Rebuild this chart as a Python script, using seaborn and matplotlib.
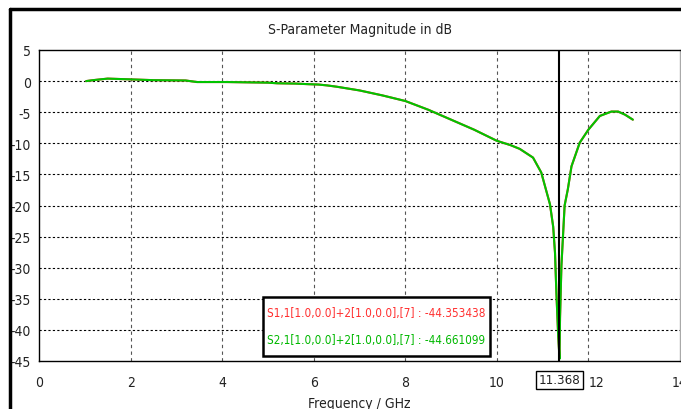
import matplotlib
matplotlib.use("Agg")
import matplotlib.pyplot as plt
import seaborn as sns
import pandas as pd
from matplotlib.patches import Rectangle
from matplotlib.lines import Line2D

freq = [1.03, 1.18, 1.5, 1.9, 2.5, 3.2, 3.45, 4.1, 4.55, 5.0, 5.2, 5.6, 5.9, 6.1, 6.3, 6.5,
        7.0, 7.5, 8.0, 8.5, 9.0, 9.5, 10.0, 10.3, 10.5, 10.79, 10.97, 11.16, 11.23, 11.27,
        11.3, 11.34, 11.368, 11.38, 11.41, 11.48, 11.55, 11.63, 11.81, 12.0, 12.25, 12.5,
        12.65, 12.8, 12.97]
s21 = [0.0, 0.15, 0.4, 0.3, 0.15, 0.1, -0.15, -0.15, -0.2, -0.25, -0.35, -0.4, -0.5, -0.55, -0.7, -0.9,
       -1.5, -2.3, -3.2, -4.6, -6.2, -7.8, -9.6, -10.3, -10.9, -12.3, -14.7, -19.8, -23.4, -27.6,
       -34.0, -41.0, -44.66, -38.0, -29.7, -20.0, -17.4, -13.7, -9.9, -7.8, -5.6, -4.9,
       -4.9, -5.4, -6.2]
s11 = [0.0, 0.15, 0.4, 0.3, 0.15, 0.1, -0.15, -0.15, -0.2, -0.25, -0.35, -0.4, -0.5, -0.55, -0.7, -0.9,
       -1.5, -2.3, -3.2, -4.6, -6.2, -7.8, -9.6, -10.3, -10.9, -12.3, -14.7, -19.8, -23.4, -27.6,
       -34.0, -41.0, -44.35, -38.0, -29.7, -20.0, -17.4, -13.7, -9.9, -7.8, -5.6, -4.9,
       -4.9, -5.4, -6.2]
x_ticks = [0, 2, 4, 6, 8, 10, 12, 14]
y_ticks = [5, 0, -5, -10, -15, -20, -25, -30, -35, -40, -45]
marker_x = 11.368
legend_lines = ["S1,1[1.0,0.0]+2[1.0,0.0],[7] : -44.353438",
                "S2,1[1.0,0.0]+2[1.0,0.0],[7] : -44.661099"]

sns.set_style("white")
plt.rcParams['font.family'] = ['DejaVu Sans']
plt.rcParams['font.stretch'] = 'condensed'
FS = 10

W, H = 681, 410
fig = plt.figure(figsize=(W / 100, H / 100), dpi=100)
ax = fig.add_axes([39 / W, 1 - 362 / H, (680 - 39) / W, (362 - 51) / H])

df = pd.DataFrame({"f": freq, "s11": s11, "s21": s21})
sns.lineplot(data=df, x="f", y="s11", ax=ax, color="#ff3030", lw=1.5, sort=False)
sns.lineplot(data=df, x="f", y="s21", ax=ax, color="#00c400", lw=1.5, sort=False)

ax.set_xlim(0, 14)
ax.set_ylim(-45, 5)
ax.set_xticks(x_ticks)
ax.set_yticks(y_ticks)
ax.set_xticklabels([str(t) for t in x_ticks])
ax.set_yticklabels([str(t) for t in y_ticks])
ax.tick_params(axis='both', labelsize=FS, colors="#222222", length=4, direction='out')
ax.tick_params(axis='y', pad=2)
ax.tick_params(axis='x', pad=6)
for lbl in ax.get_xticklabels():
    if lbl.get_text() == "12":
        lbl.set_horizontalalignment("left")
        lbl.set_x(12)
ax.set_xlabel("Frequency / GHz", fontsize=FS, color="#222222", labelpad=5)
ax.set_ylabel("")
ax.set_title("S-Parameter Magnitude in dB", fontsize=FS, color="#222222", pad=12)

for y in y_ticks[1:-1]:
    ax.axhline(y, color="black", lw=0.8, ls=(0, (2, 2)), zorder=0)
for x in x_ticks[1:-1]:
    ax.axvline(x, color="#555555", lw=0.8, ls=(0, (3, 3)), zorder=0)

for s in ax.spines.values():
    s.set_color("black")
    s.set_linewidth(1.0)
ax.spines['right'].set_color("#aaaaaa")

ax.axvline(marker_x, color="black", lw=1.5, zorder=5)

# marker x label box
ax.text(marker_x, -48.0, "11.368", ha="center", va="center", fontsize=9.5, color="#222222",
        transform=ax.transData, clip_on=False,
        bbox=dict(boxstyle="square,pad=0.2", fc="white", ec="black", lw=1.0))

# legend box
fig.add_artist(Rectangle((263 / W, 1 - 357 / H), (490 - 263) / W, (357 - 298) / H,
                         transform=fig.transFigure, fc="white", ec="black", lw=1.8, zorder=10))
fig.text(267 / W, 1 - 314 / H, legend_lines[0], color="#ff3030", fontsize=8.4,
         va="center", ha="left", zorder=11)
fig.text(267 / W, 1 - 341 / H, legend_lines[1], color="#00b800", fontsize=8.4,
         va="center", ha="left", zorder=11)

# window frame
fig.add_artist(Line2D([9.5 / W, 9.5 / W], [0, 1 - 9.5 / H], transform=fig.transFigure,
                      color="black", lw=2.5))
fig.add_artist(Line2D([9.5 / W, 1], [1 - 9.5 / H, 1 - 9.5 / H], transform=fig.transFigure,
                      color="black", lw=2.5))

fig.savefig("out.png", dpi=100)
